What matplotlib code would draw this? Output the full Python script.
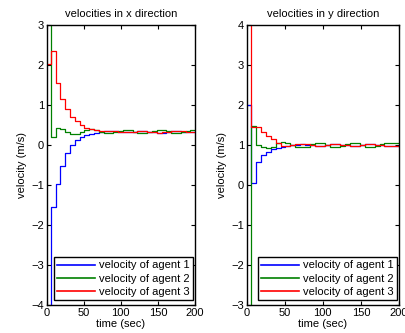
import matplotlib
matplotlib.use("Agg")
import matplotlib.pyplot as plt

plt.rcParams['font.family'] = ['Liberation Sans', 'DejaVu Sans']
plt.rcParams['font.size'] = 8

# step times (sec) and the end of the run
t = [0, 5.5, 12, 18.5, 25, 31.5, 38, 44.5, 51, 57.5, 64, 70.5, 77, 83.5, 90, 96.5,
     103, 109.5, 116, 122.5, 129, 135.5, 142, 148.5, 155, 161.5, 168, 174.5, 181, 187.5, 194]
t_end = 200

# x direction
vx1 = [-5, -1.54, -0.98, -0.52, -0.21, 0.01, 0.12, 0.19, 0.25, 0.28, 0.30, 0.32, 0.34, 0.35, 0.34, 0.33,
       0.32, 0.32, 0.33, 0.34, 0.34, 0.33, 0.32, 0.31, 0.31, 0.33, 0.34, 0.34, 0.33, 0.32, 0.32]
vx2 = [4, 0.20, 0.43, 0.41, 0.33, 0.27, 0.27, 0.33, 0.38, 0.40, 0.38, 0.33, 0.29, 0.29, 0.33, 0.36,
       0.38, 0.38, 0.33, 0.29, 0.29, 0.33, 0.34, 0.38, 0.38, 0.34, 0.29, 0.29, 0.33, 0.34, 0.37]
vx3 = [2.02, 2.35, 1.56, 1.14, 0.91, 0.71, 0.60, 0.50, 0.42, 0.39, 0.37, 0.36, 0.36, 0.35, 0.34, 0.33,
       0.32, 0.32, 0.33, 0.35, 0.35, 0.33, 0.32, 0.31, 0.32, 0.33, 0.35, 0.35, 0.34, 0.33, 0.32]

# y direction
vy1 = [2.0, 0.06, 0.57, 0.75, 0.83, 0.89, 0.93, 0.95, 0.97, 0.99, 1.01, 1.02, 1.01, 1.00, 0.98, 0.98,
       1.00, 1.02, 1.02, 1.01, 0.99, 0.98, 0.98, 1.00, 1.02, 1.02, 1.00, 0.99, 0.97, 0.97, 0.97]
vy2 = [-4, 1.48, 1.00, 0.96, 0.92, 0.94, 1.05, 1.07, 1.05, 1.00, 0.95, 0.94, 0.96, 1.02, 1.06, 1.06,
       1.00, 0.94, 0.94, 0.97, 1.02, 1.06, 1.06, 1.00, 0.94, 0.94, 0.97, 1.02, 1.06, 1.06, 1.05]
vy3 = [5, 1.46, 1.44, 1.33, 1.23, 1.14, 1.04, 0.98, 0.98, 1.00, 1.02, 1.03, 1.02, 1.00, 0.98, 0.97,
       1.00, 1.03, 1.03, 1.01, 0.99, 0.97, 0.98, 1.00, 1.03, 1.03, 1.01, 0.99, 0.97, 0.98, 0.98]

labels = ['velocity of agent 1', 'velocity of agent 2', 'velocity of agent 3']
colors = ['#0000ff', '#008000', '#ff0000']

fig = plt.figure(figsize=(4.05, 3.33), dpi=100)
ax1 = fig.add_axes([0.1153, 0.0841, 0.366, 0.841])
ax2 = fig.add_axes([0.609, 0.0841, 0.376, 0.841])

tt = t + [t_end]


def draw(ax, series, title, ylim):
    for v, c, lab in zip(series, colors, labels):
        ax.plot(tt, v + [v[-1]], drawstyle='steps-post', color=c, lw=0.9, label=lab)
    ax.set_xlim(0, 200)
    ax.set_ylim(*ylim)
    ax.set_xticks([0, 50, 100, 150, 200])
    ax.set_yticks(range(ylim[0], ylim[1] + 1))
    ax.tick_params(direction='in', top=True, right=True, length=3, width=0.8, pad=2)
    for s in ax.spines.values():
        s.set_linewidth(1.0)
    ax.set_title(title, fontsize=8, pad=6)
    ax.set_xlabel('time (sec)', labelpad=1)
    ax.set_ylabel('velocity (m/s)', labelpad=3)
    leg = ax.legend(loc='lower right', bbox_to_anchor=(1.0, 0.012), fancybox=False,
                    edgecolor='black', framealpha=1, borderpad=0.3, labelspacing=0.28,
                    handlelength=3.4, handletextpad=0.4, borderaxespad=0.15, fontsize=8)
    leg.get_frame().set_linewidth(1.0)
    for ln in leg.get_lines():
        ln.set_linewidth(1.2)


draw(ax1, [vx1, vx2, vx3], 'velocities in x direction', (-4, 3))
draw(ax2, [vy1, vy2, vy3], 'velocities in y direction', (-3, 4))

fig.savefig('out.png', dpi=100)
